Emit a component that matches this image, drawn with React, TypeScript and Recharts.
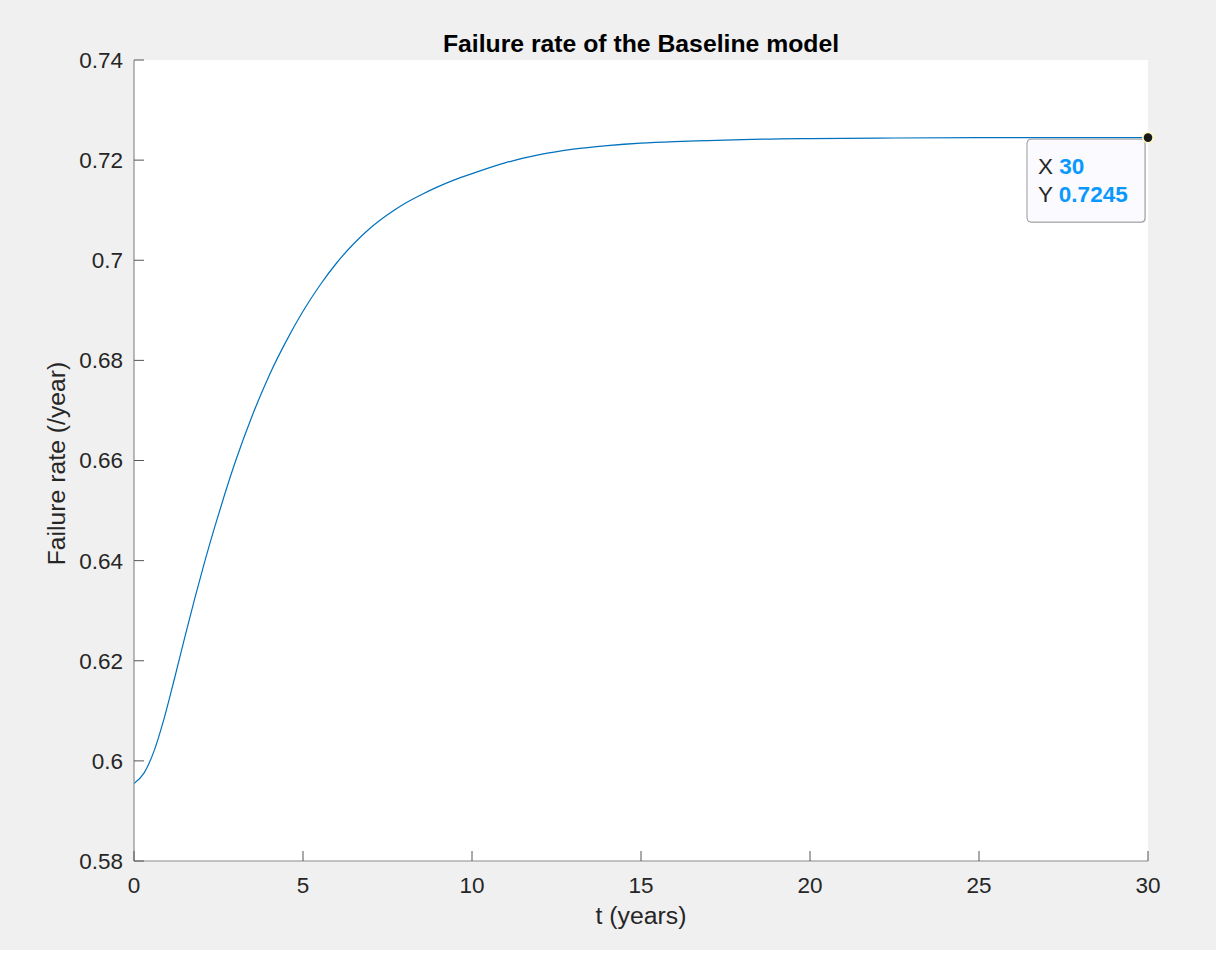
import React from 'react';
import { LineChart, Line, XAxis, YAxis, CartesianGrid, ReferenceDot } from 'recharts';

// Failure rate of the baseline model over time
const years = [
  0, 0.3, 0.6, 0.9, 1.2, 1.5, 1.8, 2.1, 2.4, 2.7, 3.0, 3.5, 4.0, 4.5, 5.0, 5.5, 6.0, 6.5, 7.0,
  7.5, 8.0, 8.5, 9.0, 9.5, 10, 11, 12, 13, 14, 15, 16, 17, 18, 20, 22, 25, 30,
];
const failureRate = [
  0.5955, 0.5976, 0.6021, 0.6087, 0.6165, 0.6246, 0.6325, 0.64, 0.647, 0.6536, 0.6598, 0.669,
  0.677, 0.6838, 0.6898, 0.695, 0.6995, 0.7033, 0.7065, 0.7091, 0.7113, 0.7131, 0.7147, 0.7161,
  0.7173, 0.7195, 0.7211, 0.7222, 0.7229, 0.7234, 0.7237, 0.7239, 0.7241, 0.7243, 0.7244, 0.7245,
  0.7245,
];

const xTicks = [0, 5, 10, 15, 20, 25, 30];
const xTickLabels = ['0', '5', '10', '15', '20', '25', '30'];
const yTicks = [0.58, 0.6, 0.62, 0.64, 0.66, 0.68, 0.7, 0.72, 0.74];
const yTickLabels = ['0.58', '0.6', '0.62', '0.64', '0.66', '0.68', '0.7', '0.72', '0.74'];

// Data tip pinned on the last sample
const tipX = 30;
const tipY = 0.7245;

const titleText = 'Failure rate of the Baseline model';
const xLabelText = 't (years)';
const yLabelText = 'Failure rate (/year)';

const data = years.map((t, i) => ({ t, rate: failureRate[i] }));

const FONT = '"Liberation Sans", Arial, Helvetica, sans-serif';
const TEXT = '#262626';
const AXIS = '#8c8c8c';
const TICK = '#555555';
const TIP_BLUE = '#0a98ff';

const W = 1216;
const H = 950;
const margin = { top: 60, right: 68, left: 74, bottom: 0 };
const Y_AXIS_W = 60;
const X_AXIS_H = 89;
const plotLeft = margin.left + Y_AXIS_W;
const plotBottom = H - margin.bottom - X_AXIS_H;
const plotWidth = W - plotLeft - margin.right;
const TICK_LEN = 10;

// Inward-pointing tick marks with labels outside, MATLAB style
const XTick = (props: any) => {
  const { x, payload } = props;
  const i = xTicks.indexOf(payload.value);
  return (
    <g>
      <line x1={x} x2={x} y1={plotBottom} y2={plotBottom - TICK_LEN} stroke={TICK} strokeWidth={1} />
      <text
        x={x}
        y={plotBottom + 16}
        dy="0.71em"
        textAnchor="middle"
        fontSize={22.5}
        fontFamily={FONT}
        fill={TEXT}
      >
        {i >= 0 ? xTickLabels[i] : String(payload.value)}
      </text>
    </g>
  );
};

const YTick = (props: any) => {
  const { y, payload } = props;
  const i = yTicks.indexOf(payload.value);
  return (
    <g>
      <line x1={plotLeft} x2={plotLeft + TICK_LEN} y1={y} y2={y} stroke={TICK} strokeWidth={1} />
      <text
        x={plotLeft - 11}
        y={y}
        dy="0.355em"
        textAnchor="end"
        fontSize={22.5}
        fontFamily={FONT}
        fill={TEXT}
      >
        {i >= 0 ? yTickLabels[i] : String(payload.value)}
      </text>
    </g>
  );
};

const DataTip = (props: any) => {
  const { cx, cy } = props;
  if (cx == null || cy == null) return null;
  const w = 118;
  const h = 83;
  const left = cx - 121;
  const top = cy + 1.5;
  return (
    <g>
      <rect x={left + 1} y={top + 1} width={w} height={h} rx={4} fill="#d8d8d8" />
      <rect x={left} y={top} width={w} height={h} rx={4} fill="#fafaff" stroke="#9a9a9a" strokeWidth={1} />
      <text x={left + 11} y={top + 35} fontSize={22.5} fontFamily={FONT}>
        <tspan fill={TEXT}>X </tspan>
        <tspan fill={TIP_BLUE} fontWeight="bold">{String(tipX)}</tspan>
      </text>
      <text x={left + 11} y={top + 63} fontSize={22.5} fontFamily={FONT}>
        <tspan fill={TEXT}>Y </tspan>
        <tspan fill={TIP_BLUE} fontWeight="bold">{tipY.toFixed(4)}</tspan>
      </text>
      <circle cx={cx} cy={cy} r={6} fill="#fff8c8" />
      <circle cx={cx} cy={cy} r={4.3} fill="#1a1a1a" />
    </g>
  );
};

const XLabel = (props: any) => {
  const vb = props.viewBox || {};
  return (
    <text
      x={vb.x + vb.width / 2}
      y={vb.y + 63}
      textAnchor="middle"
      fontSize={24.75}
      fontFamily={FONT}
      fill={TEXT}
    >
      {xLabelText}
    </text>
  );
};

const YLabel = (props: any) => {
  const vb = props.viewBox || {};
  const x = vb.x - 9;
  const y = vb.y + vb.height / 2 + 3;
  return (
    <text
      x={x}
      y={y}
      textAnchor="middle"
      fontSize={24.75}
      fontFamily={FONT}
      fill={TEXT}
      transform={`rotate(-90, ${x}, ${y})`}
    >
      {yLabelText}
    </text>
  );
};

export default function App() {
  return (
    <div
      style={{
        position: 'absolute',
        left: 0,
        top: 0,
        width: W,
        height: H,
        background: '#f0f0f0',
        fontFamily: FONT,
      }}
    >
      <svg width={W} height={margin.top} style={{ position: 'absolute', left: 0, top: 0 }}>
        <text
          x={plotLeft + plotWidth / 2}
          y={52}
          textAnchor="middle"
          fontSize={24.75}
          fontWeight="bold"
          fontFamily={FONT}
          fill="#000"
        >
          {titleText}
        </text>
      </svg>
      <LineChart
        width={W}
        height={H}
        data={data}
        margin={margin}
        style={{ position: 'absolute', left: 0, top: 0 }}
      >
        <CartesianGrid horizontal={false} vertical={false} fill="#ffffff" stroke="none" />
        <XAxis
          dataKey="t"
          type="number"
          domain={[0, 30]}
          ticks={xTicks}
          interval={0}
          height={X_AXIS_H}
          axisLine={{ stroke: AXIS, strokeWidth: 1.2 }}
          tickLine={false}
          tick={<XTick />}
          allowDataOverflow
          label={<XLabel />}
        />
        <YAxis
          type="number"
          domain={[0.58, 0.74]}
          ticks={yTicks}
          interval={0}
          width={Y_AXIS_W}
          axisLine={{ stroke: AXIS, strokeWidth: 1.2 }}
          tickLine={false}
          tick={<YTick />}
          allowDataOverflow
          label={<YLabel />}
        />
        <Line
          type="monotone"
          dataKey="rate"
          stroke="#0072BD"
          strokeWidth={1.2}
          dot={false}
          activeDot={false}
          isAnimationActive={false}
        />
        <ReferenceDot x={tipX} y={tipY} r={4} shape={<DataTip />} ifOverflow="visible" />
      </LineChart>
    </div>
  );
}
